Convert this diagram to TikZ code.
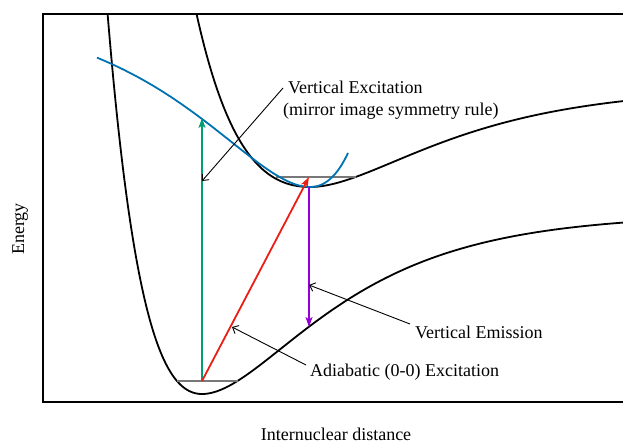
\documentclass[tikz,border=0pt]{standalone}
\usepackage{fontspec}
\setmainfont{Liberation Serif}
\usetikzlibrary{arrows.meta}
\definecolor{excgreen}{RGB}{0,158,115}
\definecolor{adred}{RGB}{235,30,20}
\definecolor{empurple}{RGB}{148,0,211}
\definecolor{mirrorblue}{RGB}{0,114,178}
\definecolor{vibgray}{RGB}{120,120,120}
\begin{document}
\begin{tikzpicture}[x=1pt,y=-1pt,
  frame/.style={line width=1.3pt},
  pes/.style={line width=1.8pt, black},
  mirror/.style={line width=1.8pt, mirrorblue},
  vib/.style={line width=1.4pt, vibgray},
  trans/.style={line width=1.8pt, -{Stealth[length=10pt,width=7pt,inset=2.5pt]}},
  note/.style={line width=0.9pt, -{Straight Barb[length=5pt,width=9pt]}},
  lbl/.style={font=\fontsize{18}{22}\selectfont, inner sep=0pt}
]
\useasboundingbox (0,0) rectangle (623,444);
% frame
\draw[frame] (623,14) -- (43,14) -- (43,402) -- (623,402);
% curves
\begin{scope}
\clip (43,14) rectangle (623,402);
% ground state
\draw[pes] plot[domain=106:202,samples=80] (\x,{394-180*(1-exp(-0.0095*(\x-202)))*(1-exp(-0.0095*(\x-202)))})
  -- plot[domain=202:623,samples=150] (\x,{394-180*(1-exp(-0.00884*(\x-202)))*(1-exp(-0.00884*(\x-202)))});
% excited state
\draw[pes] plot[domain=195:310,samples=90] (\x,{187-100*(1-exp(-0.0074*(\x-310)))*(1-exp(-0.0074*(\x-310)))})
  -- plot[domain=310:623,samples=120] (\x,{187-100*(1-exp(-0.00835*(\x-310)))*(1-exp(-0.00835*(\x-310)))});
% vibrational levels
\draw[vib] (177,381) -- (238,381);
\draw[vib] (276,177) -- (356,177);
% mirror image curve
\draw[mirror] plot[domain=97:310,samples=120] (\x,{187-180*(1-exp(0.00884*(\x-310)))*(1-exp(0.00884*(\x-310)))})
  -- plot[domain=310:348,samples=40] (\x,{187-180*(1-exp(0.0095*(\x-310)))*(1-exp(0.0095*(\x-310)))});
\end{scope}
% transition points
\coordinate (g0) at (202,381);
\coordinate (vtop) at (202,118);
\coordinate (e0) at (309,177);
\coordinate (emin) at (309,187);
\coordinate (ebot) at (309,327);
% transitions
\draw[trans, excgreen] (g0) -- (vtop);
\draw[trans, adred] (g0) -- (e0);
\draw[trans, empurple] (emin) -- (ebot);
% labels
\node[lbl, anchor=base west] (ve1) at (288,93) {Vertical Excitation};
\node[lbl, anchor=base west] (ve2) at (283,115) {(mirror image symmetry rule)};
\node[lbl, anchor=base west] (vem) at (415,338) {Vertical Emission};
\node[lbl, anchor=base west] (ad) at (310,376) {Adiabatic (0-0) Excitation};
\node[lbl, anchor=base, rotate=90] (en) at (24,229) {Energy};
\node[lbl, anchor=base] (dist) at (336,440) {Internuclear distance};
% annotation arrows
\coordinate (veS) at (283,88);
\coordinate (veT) at (202,181);
\coordinate (vemS) at (410,324);
\coordinate (vemT) at (309,285);
\coordinate (adS) at (306,365);
\coordinate (adT) at (232,327);
\draw[note] (veS) -- (veT);
\draw[note] (vemS) -- (vemT);
\draw[note] (adS) -- (adT);
\end{tikzpicture}
\end{document}
